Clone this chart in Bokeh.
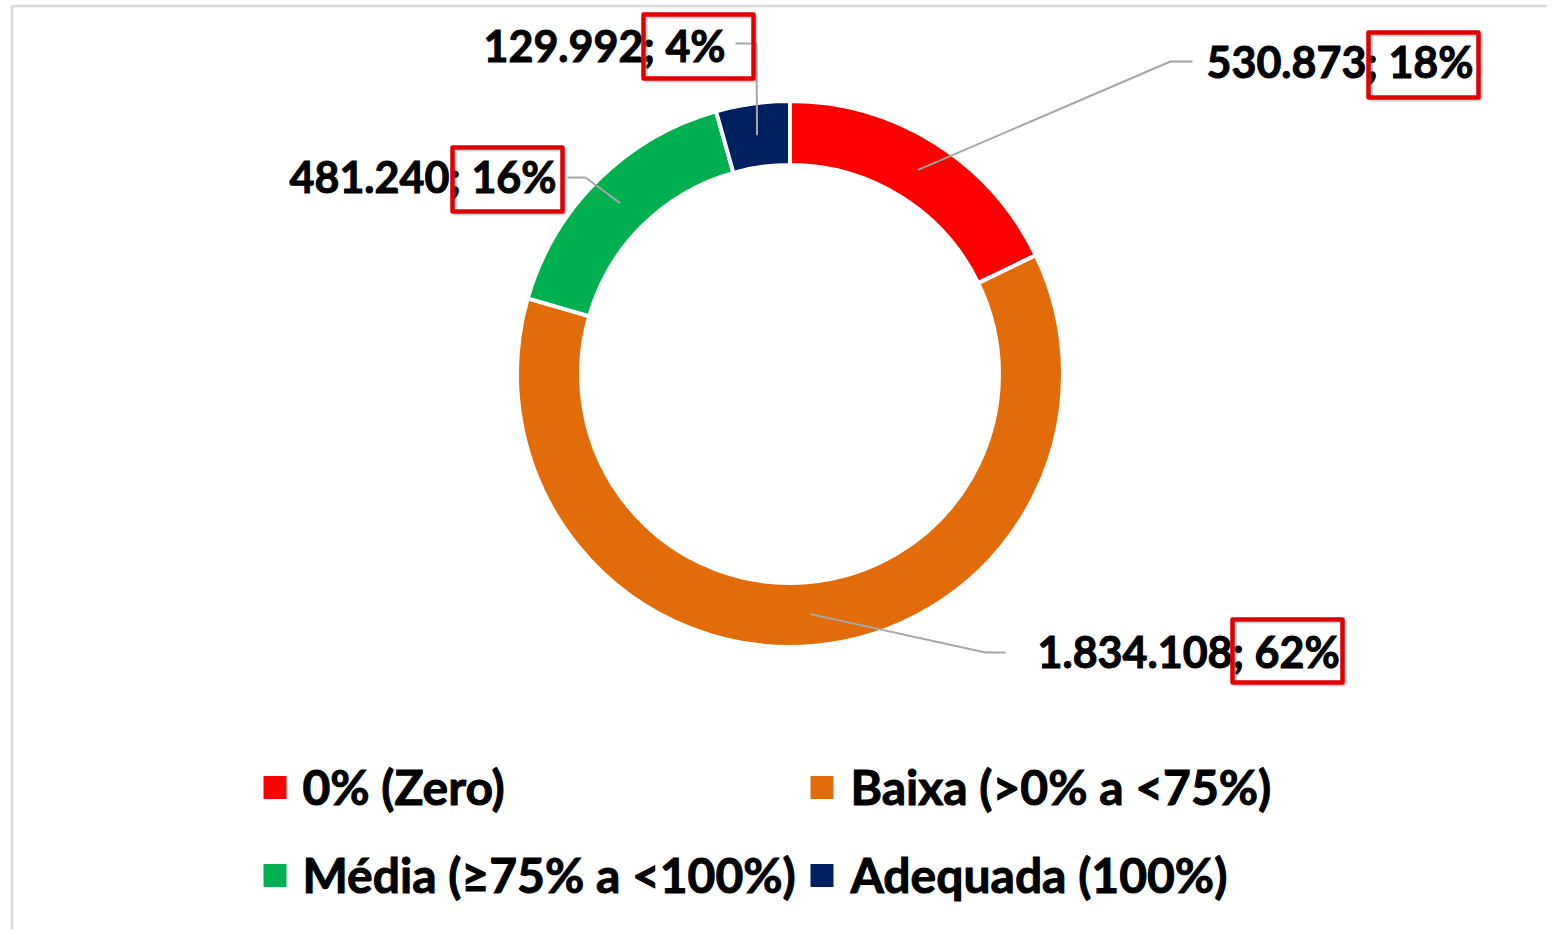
import numpy as np
from bokeh.plotting import figure
from bokeh.models import Range1d, ColumnDataSource
from bokeh.core.properties import value
from bokeh.embed import file_html
from bokeh.resources import INLINE

# ---- data ----
categories = ["0% (Zero)", "Baixa (>0% a <75%)", "Média (≥75% a <100%)", "Adequada (100%)"]
values = [530873, 1834108, 481240, 129992]
value_labels = ["530.873", "1.834.108", "481.240", "129.992"]
pct_labels = ["18%", "62%", "16%", "4%"]
colors = ["#FF0000", "#E36C0A", "#00B050", "#002060"]

FONT = "Lato"
LABEL_SIZE = "43px"
LEGEND_SIZE = "48px"
TXT_DY = 17  # baseline correction

W, H = 1547, 929


def Y(img_y):
    return H - img_y


p = figure(width=W, height=H, x_range=Range1d(0, W), y_range=Range1d(0, H),
           output_backend="svg", toolbar_location=None, min_border=0,
           x_axis_location=None, y_axis_location=None)
p.grid.visible = False
p.outline_line_color = None
p.background_fill_color = "white"
p.border_fill_color = "white"

# chart border (top / left visible)
p.segment(x0=[11.5, 11.5], y0=[Y(5.5), Y(5.5)], x1=[1560, 11.5], y1=[Y(5.5), Y(940)],
          line_color="#D9D9D9", line_width=2.5)

# ---- donut ----
total = float(sum(values))
fr = np.array(values, dtype=float) / total
cum = np.concatenate([[0.0], np.cumsum(fr)])
start = np.pi / 2 - 2 * np.pi * cum[:-1]
end = np.pi / 2 - 2 * np.pi * cum[1:]
mid = (start + end) / 2
cx, cy = 789.5, Y(373.5)
r_in, r_out = 209, 273

src = ColumnDataSource(dict(start=start, end=end, color=colors, cat=categories))
p.annular_wedge(x=cx, y=cy, inner_radius=r_in, outer_radius=r_out,
                start_angle="start", end_angle="end", direction="clock",
                fill_color="color", line_color="white", line_width=4, source=src)

# ---- leader lines ----
r_mid = (r_in + r_out) / 2
elbows = [(1170, 61), (985, 652), (585, 177), (756, 43)]
ends = [(1192, 61), (1005, 652), (567, 177), (735, 43)]
xs, ys = [], []
for a, e, t in zip(mid, elbows, ends):
    x0 = cx + r_mid * np.cos(a)
    y0 = cy + r_mid * np.sin(a)
    xs.append([x0, e[0], t[0]])
    ys.append([y0, Y(e[1]), Y(t[1])])
p.multi_line(xs=xs, ys=ys, line_color="#A6A6A6", line_width=2)

# ---- data labels ----
label_pos = [(1206, 78), (1037, 668), (289, 193), (483, 62)]
texts = [f"{v}; {pc}" for v, pc in zip(value_labels, pct_labels)]
p.text(x=[q[0] for q in label_pos], y=[Y(q[1] - TXT_DY) for q in label_pos], text=texts,
       text_font=value(FONT), text_font_style="bold", text_font_size=LABEL_SIZE,
       text_color="black", text_outline_color="black",
       text_align="left", text_baseline="alphabetic")

# highlight boxes around "; pct%"
boxes = [(1368, 32, 1478, 97), (1232, 619, 1342, 682), (452, 147, 562, 211), (643, 14, 753, 78)]
p.quad(left=[b[0] + 2 for b in boxes], right=[b[2] + 2 for b in boxes],
       top=[Y(b[1] + 2) for b in boxes], bottom=[Y(b[3] + 2) for b in boxes],
       fill_color=None, line_color="#808080", line_alpha=0.35, line_width=4)
p.quad(left=[b[0] for b in boxes], right=[b[2] for b in boxes],
       top=[Y(b[1]) for b in boxes], bottom=[Y(b[3]) for b in boxes],
       fill_color=None, line_color="#E00000", line_width=4.5, line_join="round")

# ---- legend ----
leg_sq = [(274.5, 787), (821.5, 787), (274.5, 875), (821.5, 875)]
leg_txt = [(302, 803), (850, 803), (302, 891), (850, 891)]
p.scatter(x=[q[0] for q in leg_sq], y=[Y(q[1]) for q in leg_sq], marker="square",
          size=23, fill_color=colors, line_color=None)
p.text(x=[q[0] for q in leg_txt], y=[Y(q[1] - TXT_DY) for q in leg_txt], text=categories,
       text_font=value(FONT), text_font_style="bold", text_font_size=LEGEND_SIZE,
       text_color="black", text_outline_color="black",
       text_align="left", text_baseline="alphabetic")

open("out.html", "w").write(file_html(p, INLINE))
